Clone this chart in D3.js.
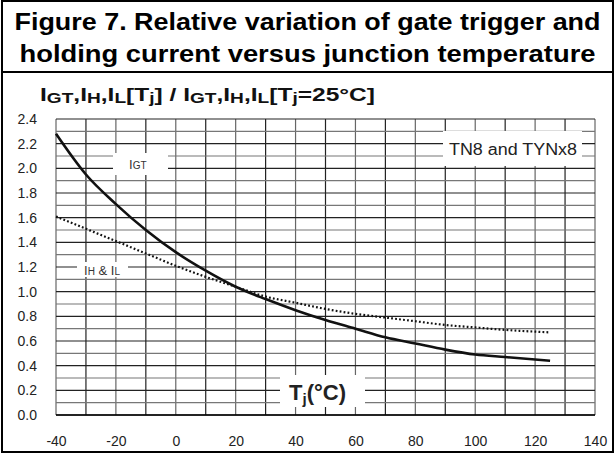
<!DOCTYPE html>
<html>
<head>
<meta charset="utf-8">
<title>Figure 7</title>
<script src="https://d3js.org/d3.v7.min.js"></script>
<style>
  body { margin: 0; background: #fff; }
  text { font-family: "Liberation Sans", Arial, sans-serif; }
</style>
</head>
<body>
<svg width="615" height="454"></svg>
<script>
// temperatures (°C) and relative values
const temps = [-40, -30, -20, -10, 0, 10, 20, 30, 40, 50, 60, 70, 80, 90, 100, 110, 125]
const igt = [2.28, 1.95, 1.71, 1.50, 1.32, 1.17, 1.04, 0.94, 0.85, 0.77, 0.70, 0.63, 0.58, 0.53, 0.49, 0.47, 0.44]
const ihil = [1.61, 1.51, 1.41, 1.31, 1.21, 1.12, 1.04, 0.96, 0.91, 0.86, 0.82, 0.79, 0.76, 0.73, 0.71, 0.69, 0.67]
const xTicks = [-40, -20, 0, 20, 40, 60, 80, 100, 120, 140]
const yTicks = [0, 0.2, 0.4, 0.6, 0.8, 1.0, 1.2, 1.4, 1.6, 1.8, 2.0, 2.2, 2.4]

const svg = d3.select("svg")
const width = +svg.attr("width")
const height = +svg.attr("height")

// frame + title box
svg.append("rect").attr("x", 2).attr("y", 1).attr("width", width - 4).attr("height", height - 3)
    .attr("fill", "none").attr("stroke", "#000").attr("stroke-width", 2)
svg.append("line").attr("x1", 2).attr("x2", width - 2).attr("y1", 72).attr("y2", 72)
    .attr("stroke", "#000").attr("stroke-width", 2)

const titleLines = ["Figure 7. Relative variation of gate trigger and", "holding current versus junction temperature"]
const titleLen = [586, 576]
svg.selectAll(".title").data(titleLines).enter().append("text")
    .attr("x", width / 2).attr("y", (d, i) => 30 + i * 32)
    .attr("text-anchor", "middle").attr("font-size", 24).attr("font-weight", "bold")
    .attr("textLength", (d, i) => titleLen[i]).attr("lengthAdjust", "spacingAndGlyphs")
    .text(d => d)

const x = d3.scaleLinear().domain([-40, 140]).range([56, 595])
const y = d3.scaleLinear().domain([0, 2.4]).range([415, 119])

// grid
const g = svg.append("g")
d3.range(-40, 141, 10).forEach((t, i) => {
    g.append("line").attr("x1", x(t)).attr("x2", x(t)).attr("y1", y(0)).attr("y2", y(2.4))
        .attr("stroke", i % 2 ? "#222" : "#666").attr("stroke-width", 1.2)
})
d3.range(0, 25).forEach(i => {
    g.append("line").attr("x1", x(-40)).attr("x2", x(140)).attr("y1", y(i / 10)).attr("y2", y(i / 10))
        .attr("stroke", i % 2 ? "#777" : "#222").attr("stroke-width", 1.2)
})
g.append("line").attr("x1", x(-40)).attr("x2", x(140)).attr("y1", y(0)).attr("y2", y(0))
    .attr("stroke", "#000").attr("stroke-width", 1.5)

// axes labels
const yAxis = d3.axisLeft(y).tickValues(yTicks).tickFormat(d3.format(".1f")).tickSize(0).tickPadding(19)
const yg = svg.append("g").attr("transform", "translate(" + x(-40) + ",0)").call(yAxis)
yg.select(".domain").remove()
yg.selectAll("text").attr("font-size", 14).attr("font-family", "Liberation Sans, Arial, sans-serif").attr("fill", "#222")

const xAxis = d3.axisBottom(x).tickValues(xTicks).tickFormat(d => String(d)).tickSize(0).tickPadding(21)
const xg = svg.append("g").attr("transform", "translate(0," + y(0) + ")").call(xAxis)
xg.select(".domain").remove()
xg.selectAll("text").attr("font-size", 14).attr("font-family", "Liberation Sans, Arial, sans-serif").attr("fill", "#222")

// curves
const line = d3.line().x(d => x(d[0])).y(d => y(d[1])).curve(d3.curveMonotoneX)
svg.append("path").datum(temps.map((t, i) => [t, ihil[i]])).attr("d", line)
    .attr("fill", "none").attr("stroke", "#111").attr("stroke-width", 2.2).attr("stroke-dasharray", "1.8,2.2")
svg.append("path").datum(temps.map((t, i) => [t, igt[i]])).attr("d", line)
    .attr("fill", "none").attr("stroke", "#111").attr("stroke-width", 2.6)

// label boxes
const box = (x0, y0, w, h) => svg.append("rect").attr("x", x0).attr("y", y0).attr("width", w).attr("height", h).attr("fill", "#fff")
box(113, 153, 55, 22)
box(77, 262, 51, 15)
box(443, 131, 139, 35)
box(280, 375, 85, 32)

// IGT
let t = svg.append("text").attr("x", 129).attr("y", 169).attr("font-size", 13).attr("fill", "#333")
t.append("tspan").text("I")
t.append("tspan").attr("font-size", 10).text("GT")

t = svg.append("text").attr("x", 84).attr("y", 275).attr("font-size", 13).attr("fill", "#333")
t.append("tspan").text("I")
t.append("tspan").attr("font-size", 10).text("H")
t.append("tspan").text(" & I")
t.append("tspan").attr("font-size", 10).text("L")

svg.append("text").attr("x", 449).attr("y", 155).attr("font-size", 16).attr("fill", "#222")
    .attr("textLength", 128).attr("lengthAdjust", "spacingAndGlyphs").text("TN8 and TYNx8")

t = svg.append("text").attr("x", 289).attr("y", 400).attr("font-size", 22).attr("font-weight", "bold").attr("fill", "#222")
t.append("tspan").text("T")
t.append("tspan").attr("font-size", 15).attr("dy", 4).text("j")
t.append("tspan").attr("dy", -4).text("(°C)")

// y title
t = svg.append("text").attr("x", 40).attr("y", 101).attr("font-size", 18).attr("font-weight", "bold").attr("fill", "#111")
    .attr("textLength", 335).attr("lengthAdjust", "spacingAndGlyphs")
const sub = (s) => t.append("tspan").attr("font-size", 14).attr("dy", 2).text(s)
const norm = (s) => t.append("tspan").attr("dy", -2).text(s)
t.append("tspan").text("I"); sub("GT"); norm(",I"); sub("H"); norm(",I"); sub("L"); norm("[T"); sub("j"); norm("] / I")
sub("GT"); norm(",I"); sub("H"); norm(",I"); sub("L"); norm("[T"); sub("j"); norm("=25°C]")
</script>
</body>
</html>
